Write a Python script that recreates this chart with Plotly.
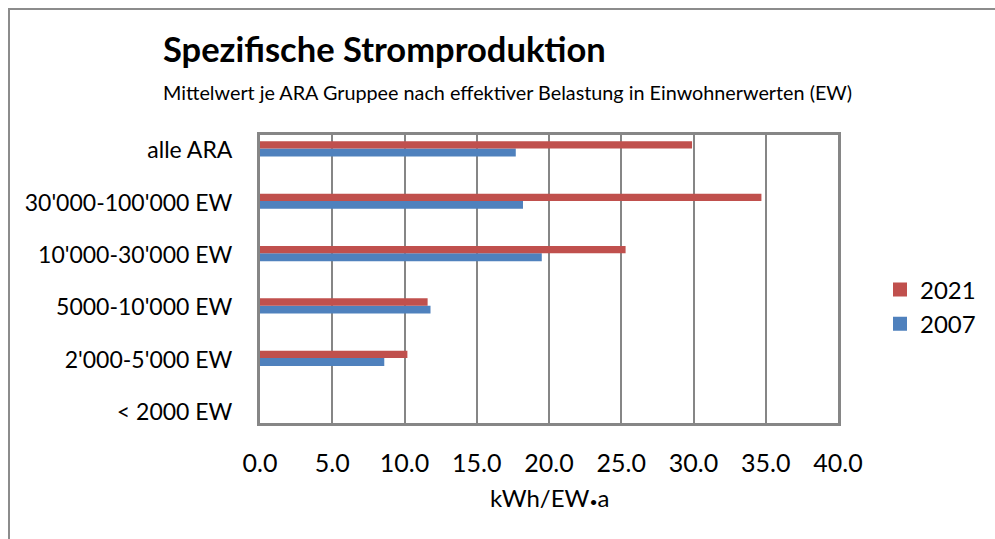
import plotly.graph_objects as go

categories = ["< 2000 EW", "2'000-5'000 EW", "5000-10'000 EW",
              "10'000-30'000 EW", "30'000-100'000 EW", "alle ARA"]
v2021 = [None, 10.2, 11.6, 25.3, 34.7, 29.9]
v2007 = [None, 8.6, 11.8, 19.5, 18.2, 17.7]
x_ticks = [0, 5, 10, 15, 20, 25, 30, 35, 40]
x_ticktext = ["0.0", "5.0", "10.0", "15.0", "20.0", "25.0", "30.0", "35.0", "40.0"]

RED = "#C0504D"
BLUE = "#4F81BD"
GRID = "#868686"
FONT = "Lato"

fig = go.Figure()
fig.add_trace(go.Bar(name="2007", y=categories, x=v2007, orientation="h",
                     marker=dict(color=BLUE, line=dict(width=0)),
                     offset=-0.12, width=0.15, showlegend=False))
fig.add_trace(go.Bar(name="2021", y=categories, x=v2021, orientation="h",
                     marker=dict(color=RED, line=dict(width=0)),
                     offset=0.03, width=0.14, showlegend=False))
# legend entries (square swatches)
fig.add_trace(go.Scatter(name="2007", x=[None], y=[None], mode="markers",
                         marker=dict(symbol="square", size=14, color=BLUE)))
fig.add_trace(go.Scatter(name="2021", x=[None], y=[None], mode="markers",
                         marker=dict(symbol="square", size=14, color=RED)))

W, H = 995, 539
L, R, T, B = 260, 157, 135, 116
pw, ph = W - L - R, H - T - B

def px(x):
    return (x - L) / pw

def py(y):
    return (H - B - y) / ph

fig.update_layout(
    width=W, height=H,
    margin=dict(l=L, r=R, t=T, b=B, autoexpand=False),
    paper_bgcolor="white", plot_bgcolor="white",
    font=dict(family=FONT, color="black", size=23),
    barmode="overlay",
    showlegend=True,
    legend=dict(x=px(880), y=py(307), xanchor="left", yanchor="middle",
                traceorder="reversed", font=dict(size=24, family=FONT),
                itemwidth=30, tracegroupgap=0, bgcolor="rgba(0,0,0,0)"),
    xaxis=dict(range=[0, 40], tickvals=x_ticks, ticktext=x_ticktext,
               showgrid=True, gridcolor=GRID, gridwidth=2,
               showline=True, linecolor=GRID, linewidth=3, mirror=True,
               zeroline=False, ticks="", ticklabelstandoff=16,
               tickfont=dict(size=25, family=FONT), fixedrange=True),
    yaxis=dict(type="category", categoryorder="array", categoryarray=categories,
               range=[-0.21, 5.29], showgrid=False,
               showline=True, linecolor=GRID, linewidth=3, mirror=True,
               ticks="", ticklabelstandoff=20,
               tickfont=dict(size=23, family=FONT), fixedrange=True),
    annotations=[
        dict(text="<b>Spezifische Stromproduktion</b>", xref="paper", yref="paper",
             x=px(161), y=py(48), xanchor="left", yanchor="middle", showarrow=False,
             font=dict(size=34.5, family=FONT, color="black")),
        dict(text="Mittelwert je ARA Gruppee nach effektiver Belastung in Einwohnerwerten (EW)",
             xref="paper", yref="paper", x=px(161), y=py(92), xanchor="left",
             yanchor="middle", showarrow=False,
             font=dict(size=19.8, family=FONT, color="black")),
        dict(text="kWh/EW<span style='font-size:14px'>•</span>a", xref="paper", yref="paper",
             x=px(549), y=py(497),
             xanchor="center", yanchor="middle", showarrow=False,
             font=dict(size=24, family=FONT, color="black")),
    ],
    shapes=[
        dict(type="rect", xref="paper", yref="paper",
             x0=px(9), x1=px(1010), y0=py(560), y1=py(9),
             line=dict(color="#8C8C8C", width=2), fillcolor="rgba(0,0,0,0)",
             layer="below"),
    ],
)

fig.write_html("out.html", config={"displayModeBar": False},
               post_script="document.body.style.margin='0';document.body.style.overflow='hidden';")
